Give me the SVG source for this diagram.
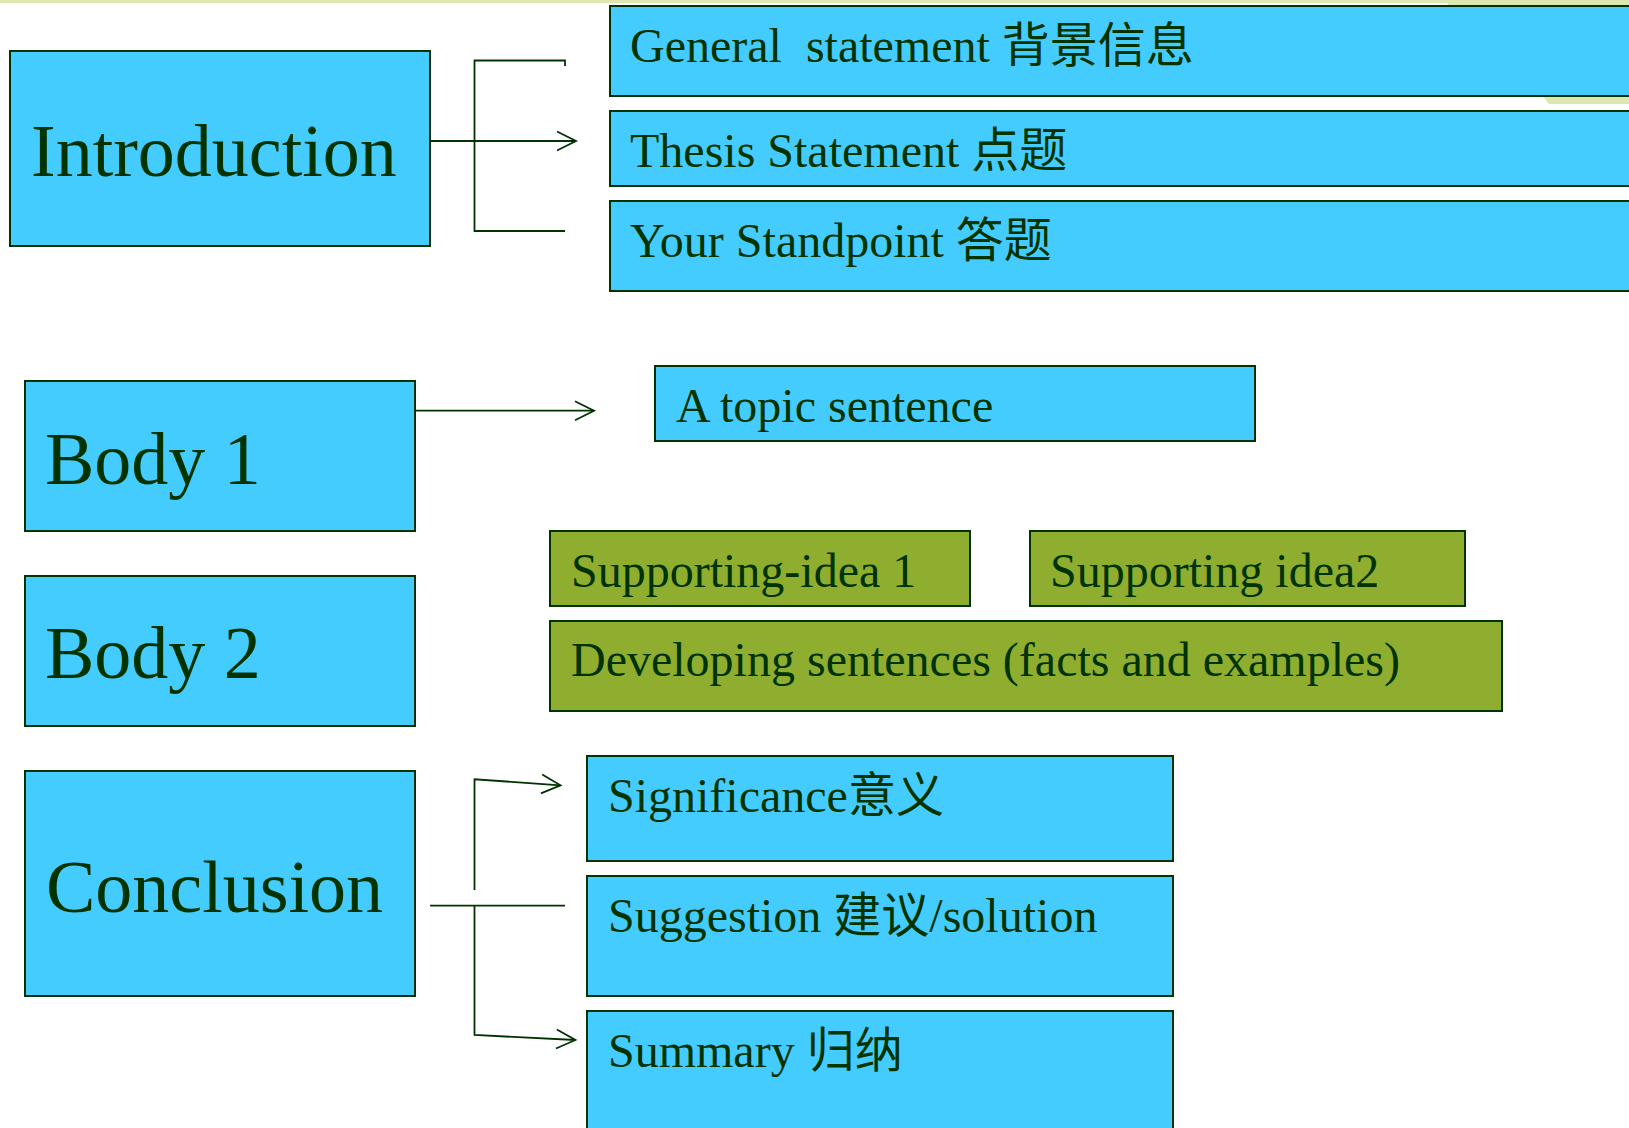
<svg xmlns="http://www.w3.org/2000/svg" width="1629" height="1128" viewBox="0 0 1629 1128">
<style>
.box{fill:#45CCFF;stroke:#003300;stroke-width:2}
.olive{fill:#8FAD2F;stroke:#003300;stroke-width:2}
.t{font-family:"Liberation Serif","Noto Sans CJK SC",serif;fill:#003300}
.big{font-size:74px}
.mid{font-size:48px}
.con{fill:none;stroke:#003300;stroke-width:1.8}
</style>
<defs>
<marker id="arr" markerUnits="userSpaceOnUse" markerWidth="24" markerHeight="24" refX="19" refY="9.5" orient="auto" viewBox="-2 -2 24 24">
<path d="M0,0 L19,9.5 L0,19" fill="none" stroke="#003300" stroke-width="1.8"/>
</marker>
</defs>
<rect width="1629" height="1128" fill="#FFFFFF"/>
<rect x="0" y="0" width="1629" height="3" fill="#DCE8B0"/>
<polygon points="1448,0 1629,0 1629,104 1549,104 1541,94 1448,94" fill="#DCE8B0"/>

<g id="introduction">
<rect class="box" x="10" y="51" width="420" height="195"/>
<text class="t big" x="31" y="176">Introduction</text>
</g>
<g id="general">
<rect class="box" x="610" y="6" width="1040" height="90"/>
<text class="t mid" x="630" y="62" xml:space="preserve">General  statement 背景信息</text>
</g>
<g id="thesis">
<rect class="box" x="610" y="111" width="1040" height="75"/>
<text class="t mid" x="630" y="167">Thesis Statement 点题</text>
</g>
<g id="standpoint">
<rect class="box" x="610" y="201" width="1040" height="90"/>
<text class="t mid" x="630" y="257">Your Standpoint 答题</text>
</g>

<g id="body1">
<rect class="box" x="25" y="381" width="390" height="150"/>
<text class="t big" x="45" y="484">Body 1</text>
</g>
<g id="topic">
<rect class="box" x="655" y="366" width="600" height="75"/>
<text class="t mid" x="676" y="422">A topic sentence</text>
</g>
<g id="body2">
<rect class="box" x="25" y="576" width="390" height="150"/>
<text class="t big" x="45" y="678">Body 2</text>
</g>
<g id="support1">
<rect class="olive" x="550" y="531" width="420" height="75"/>
<text class="t mid" x="571" y="587">Supporting-idea 1</text>
</g>
<g id="support2">
<rect class="olive" x="1030" y="531" width="435" height="75"/>
<text class="t mid" x="1050" y="587">Supporting idea2</text>
</g>
<g id="developing">
<rect class="olive" x="550" y="621" width="952" height="90"/>
<text class="t mid" x="571" y="676">Developing sentences (facts and examples)</text>
</g>

<g id="conclusion">
<rect class="box" x="25" y="771" width="390" height="225"/>
<text class="t big" x="46" y="912">Conclusion</text>
</g>
<g id="significance">
<rect class="box" x="587" y="756" width="586" height="105"/>
<text class="t mid" x="608" y="812">Significance意义</text>
</g>
<g id="suggestion">
<rect class="box" x="587" y="876" width="586" height="120"/>
<text class="t mid" x="608" y="932">Suggestion 建议/solution</text>
</g>
<g id="summary">
<rect class="box" x="587" y="1011" width="586" height="140"/>
<text class="t mid" x="608" y="1067">Summary 归纳</text>
</g>

<g id="connectors">
<path class="con" d="M565,66 V60.5 H474.5 V231 H565"/>
<path class="con" d="M430,141 H576" marker-end="url(#arr)"/>
<path class="con" d="M415,410.7 H594" marker-end="url(#arr)"/>
<path class="con" d="M430,905.7 H565"/>
<path class="con" d="M474.5,890 V779.3 L560.5,785.3" marker-end="url(#arr)"/>
<path class="con" d="M474.5,905.7 V1035 L575.4,1040" marker-end="url(#arr)"/>
</g>
</svg>
